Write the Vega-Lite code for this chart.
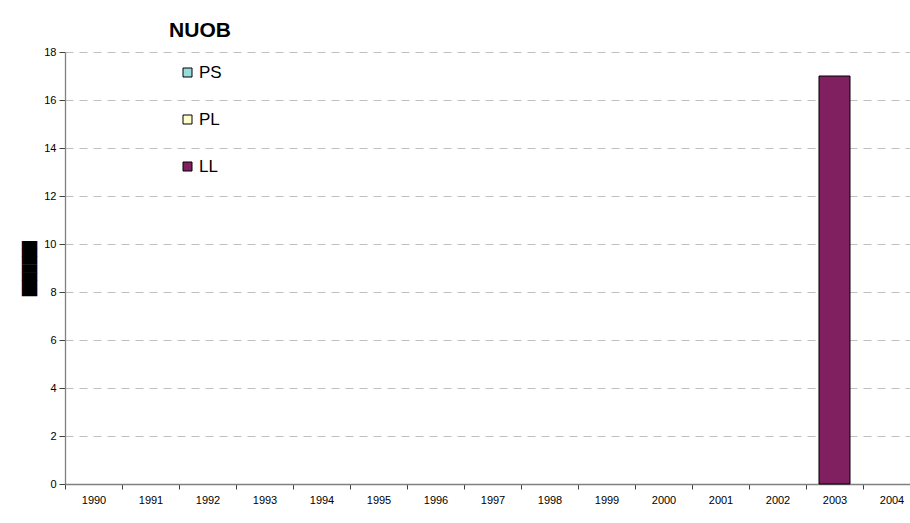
{
  "$schema": "https://vega.github.io/schema/vega-lite/v6.json",
  "autosize": "none",
  "width": 845,
  "height": 432,
  "padding": {"left": 65, "top": 52, "right": 0, "bottom": 39},
  "background": "white",
  "config": {
    "view": {"stroke": null},
    "font": "Liberation Sans",
    "axis": {"labelFont": "Liberation Sans", "labelColor": "#000000", "domainColor": "#808080", "tickColor": "#404040"}
  },
  "data": {
    "values": [
      {"year": "2003", "series": "LL", "value": 17}
    ]
  },
  "mark": {"type": "bar", "width": {"band": 0.544}, "stroke": "#000000", "strokeWidth": 1},
  "encoding": {
    "x": {
      "field": "year",
      "type": "nominal",
      "scale": {
        "domain": ["1990","1991","1992","1993","1994","1995","1996","1997","1998","1999","2000","2001","2002","2003","2004"],
        "range": [0, 855],
        "paddingInner": 0,
        "paddingOuter": 0
      },
      "axis": {
        "title": null,
        "labelAngle": 0,
        "labelFontSize": 11,
        "labelPadding": 5,
        "tickSize": 5,
        "tickBand": "extent",
        "grid": false,
        "domainWidth": 1.3
      }
    },
    "y": {
      "field": "value",
      "type": "quantitative",
      "scale": {"domain": [0, 18], "nice": false},
      "axis": {
        "values": [0,2,4,6,8,10,12,14,16,18],
        "title": "███████",
        "titleFont": "DejaVu Sans Mono",
        "titleFontSize": 13,
        "titleColor": "#000000",
        "titlePadding": 7,
        "labelFontSize": 11,
        "labelPadding": 3,
        "tickSize": 6,
        "domainWidth": 1.3,
        "grid": true,
        "gridColor": "#c0c0c0",
        "gridDash": [8, 6],
        "gridWidth": 1
      }
    },
    "fill": {
      "field": "series",
      "type": "nominal",
      "scale": {"domain": ["PS", "PL", "LL"], "range": ["#99dcdc", "#ffffcc", "#802060"]},
      "legend": {
        "title": "NUOB",
        "orient": "none",
        "legendX": 104,
        "legendY": -32,
        "titleFont": "Liberation Sans",
        "titleFontSize": 21,
        "titleFontWeight": "bold",
        "titleColor": "#000000",
        "titleAnchor": "middle",
        "titlePadding": 23,
        "symbolType": "square",
        "symbolSize": 81,
        "symbolStrokeColor": "#000000",
        "symbolStrokeWidth": 1,
        "labelFont": "Liberation Sans",
        "labelFontSize": 17,
        "labelColor": "#000000",
        "labelOffset": 3,
        "rowPadding": 29
      }
    }
  }
}
